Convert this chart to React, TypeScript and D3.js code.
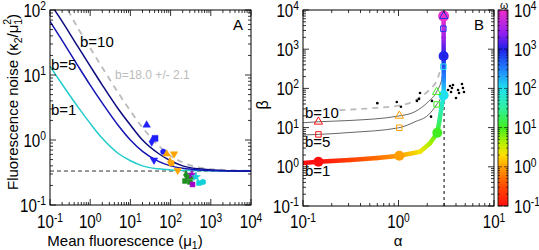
import React from 'react';
import * as d3 from 'd3';

const W = 539, H = 250;
const FONT = "'Liberation Sans', Arial, Helvetica, sans-serif";

// ---- panel A: noise vs mean fluorescence (mu1, kappa2/mu1^2) ----
const curveA1 = [[0.1, 13.7], [0.2, 7.2], [0.5, 3.2], [1, 1.8], [2, 1.06], [5, 0.62], [10, 0.48], [20, 0.40], [50, 0.36], [100, 0.347], [300, 0.338], [1e4, 0.333]];
const curveA5 = [[0.1, 67], [0.2, 34], [0.5, 13.7], [1, 7.0], [2, 3.7], [5, 1.67], [10, 1.0], [20, 0.67], [50, 0.47], [100, 0.40], [200, 0.367], [500, 0.347], [1000, 0.34], [1e4, 0.333]];
const curveA10 = [[0.13, 100], [0.2, 67], [0.5, 27], [1, 13.7], [2, 7.0], [5, 3.0], [10, 1.7], [20, 1.0], [50, 0.62], [100, 0.48], [200, 0.40], [500, 0.36], [1000, 0.347], [1e4, 0.334]];
const curveFit = [[0.28, 100], [0.5, 52], [1, 26], [2, 13], [5, 5.3], [10, 2.8], [20, 1.55], [50, 0.82], [100, 0.57], [200, 0.45], [500, 0.38], [1000, 0.357], [1e4, 0.336]];
const noiseFloor = 0.333;

const ptsBlue = [[25.4, 1.7, 'tri'], [41, 1.06, 'sq'], [33.9, 0.94, 'dia'], [65.8, 0.66, 'circ'], [38.6, 0.49, 'trid']];
const ptsOrange = [[80, 0.61, 'tri'], [122, 0.61, 'trid'], [97, 0.46, 'dia'], [106, 0.44, 'sq'], [150, 0.34, 'trid']];
const ptsGreen = [[242, 0.29, 'dia'], [304, 0.27, 'tri'], [228, 0.234, 'sq'], [304, 0.226, 'sq']];
const ptsPurple = [[340, 0.294, 'star'], [351, 0.207, 'sq']];
const ptsCyan = [[428, 0.27, 'star'], [509, 0.218, 'sq'], [640, 0.226, 'circ']];

// ---- panel B: beta vs alpha, colour = log10(omega) ----
const curveB1 = [[0.1, 1.25, -1.2], [0.145, 1.35, -1], [0.31, 1.49, -0.6], [0.6, 1.68, -0.3], [1.02, 1.92, 0], [1.68, 2.43, 0.35], [2.14, 4.0, 0.65], [2.55, 7.4, 1], [2.69, 15.5, 1.35], [2.79, 28, 1.6], [2.97, 67, 2], [2.98, 200, 2.5], [2.97, 673, 3], [2.97, 2000, 3.5], [2.97, 7000, 4]];
const curveB5 = [[0.1, 6.5], [0.145, 6.7], [0.31, 7.5], [1.01, 9.9], [1.49, 14.1], [2.05, 21], [2.51, 39], [2.83, 68], [2.94, 110], [2.98, 220], [2.99, 358]];
const curveB10 = [[0.1, 13.3], [0.145, 14.1], [0.31, 15.2], [1.01, 19.8], [1.49, 25.5], [2.05, 45.8], [2.51, 82], [2.83, 164], [2.94, 243]];
const curveBFit = [[0.24, 28], [0.5, 31], [1.08, 37.5], [1.49, 49], [2.05, 86], [2.31, 115], [2.51, 155], [2.7, 260]];
const circlesB1 = [[0.145, 1.35, -1], [1.02, 1.92, 0], [2.55, 7.4, 1], [2.97, 67, 2], [2.97, 673, 3], [2.97, 7000, 4]];
const trianglesB10 = [[0.145, 14.1, -1], [1.02, 20, 0], [2.51, 81, 1], [2.97, 673, 2.9], [2.97, 7000, 2.9]];
const squaresB5 = [[0.145, 6.7, -1], [1.02, 9.9, 0], [2.51, 39, 1], [2.95, 358, 2], [2.95, 3340, 2.9]];
const dotsB = [[0.6, 42], [0.96, 45], [1.06, 34], [1.56, 48], [1.64, 54], [1.68, 76], [2.19, 19], [2.24, 48], [2.92, 184], [2.85, 60], [2.9, 50], [3.3, 91], [3.46, 115], [3.63, 102], [3.72, 122], [3.55, 81], [4.0, 57], [4.2, 91], [4.3, 76], [4.62, 129], [4.73, 102], [4.85, 81]];
const alphaCritical = 3;

// omega palette
const omegaStops = [-1, -0.5, 0, 0.3, 0.6, 1, 1.5, 2, 2.5, 3, 3.4, 4];
const omegaColors = ['#ff1010', '#ff4a00', '#ffa000', '#ffe000', '#b8f000', '#40ee20', '#30f0a0', '#20e0f0', '#2080ff', '#2020e8', '#9020f0', '#f030c8'];

const xA = d3.scaleLog().domain([0.1, 1e4]).range([50, 251]);
const yA = d3.scaleLog().domain([0.1, 100]).range([205, 10]);
const xB = d3.scaleLog().domain([0.1, 10]).range([303, 494]);
const yB = d3.scaleLog().domain([0.1, 1e4]).range([206, 10]);
const cOmega = d3.scaleLinear<string>().domain(omegaStops).range(omegaColors).clamp(true);

const TS = 18.5, SX = 0.82;

function Pow({ x, y, e, anchor }: any) {
  return (
    <g transform={`translate(${x},${y}) scale(${SX},1)`}>
      <text textAnchor={anchor} fontSize={TS} fontFamily={FONT}>
        10<tspan dy={-6.5} fontSize={12.5}>{e}</tspan>
      </text>
    </g>
  );
}

function logTicks(lo: number, hi: number) {
  const major: number[] = [], minor: number[] = [];
  for (let p = Math.round(Math.log10(lo)); p <= Math.round(Math.log10(hi)); p++) {
    major.push(Math.pow(10, p));
    if (p < Math.round(Math.log10(hi))) for (let k = 2; k < 10; k++) minor.push(k * Math.pow(10, p));
  }
  return { major, minor };
}

function Frame({ x, y }: any) {
  const [x0, x1] = x.range();
  const [y0, y1] = y.range();
  const tx = logTicks(x.domain()[0], x.domain()[1]);
  const ty = logTicks(y.domain()[0], y.domain()[1]);
  const out: any[] = [];
  tx.major.concat(tx.minor).forEach((v, i) => {
    const L = i < tx.major.length ? 6 : 3;
    const px = x(v);
    out.push(<line key={'xb' + i} x1={px} x2={px} y1={y0} y2={y0 - L} />);
    out.push(<line key={'xt' + i} x1={px} x2={px} y1={y1} y2={y1 + L} />);
  });
  ty.major.concat(ty.minor).forEach((v, i) => {
    const L = i < ty.major.length ? 6 : 3;
    const py = y(v);
    out.push(<line key={'yl' + i} x1={x0} x2={x0 + L} y1={py} y2={py} />);
    out.push(<line key={'yr' + i} x1={x1} x2={x1 - L} y1={py} y2={py} />);
  });
  return (
    <g stroke="#000" strokeWidth={0.8} fill="none">
      {out}
      <rect x={x0} y={y1} width={x1 - x0} height={y0 - y1} strokeWidth={1} />
    </g>
  );
}

function Marker({ x, y, type, color, size = 26, hollow = false }: any) {
  const map: any = { tri: d3.symbolTriangle, trid: d3.symbolTriangle, sq: d3.symbolSquare, dia: d3.symbolDiamond, circ: d3.symbolCircle, star: d3.symbolStar };
  const p = d3.symbol().type(map[type]).size(size)() as string;
  const rot = type === 'trid' ? ' rotate(180)' : '';
  return <path d={p} transform={`translate(${x},${y})${rot}`} fill={hollow ? 'none' : color} stroke={color} strokeWidth={hollow ? 1 : 0.5} />;
}

export default function App() {
  const lineA = d3.line<any>().x(d => xA(d[0])).y(d => yA(d[1])).curve(d3.curveMonotoneX);
  const lineB = d3.line<any>().x(d => xB(d[0])).y(d => yB(d[1])).curve(d3.curveMonotoneX);

  const groupsA: [any[], string][] = [[ptsBlue, '#2020ff'], [ptsOrange, '#ffa500'], [ptsGreen, '#1f8f1f'], [ptsPurple, '#a000c8'], [ptsCyan, '#10d0d8']];
  const majA = logTicks(0.1, 1e4).major;
  const majAy = logTicks(0.1, 100).major;
  const majB = logTicks(0.1, 10).major;
  const majBy = logTicks(0.1, 1e4).major;
  const cbTicks = logTicks(0.1, 1e4);

  return (
    <svg width={W} height={H} style={{ position: 'absolute', left: 0, top: 0, background: '#fff' }} fontFamily={FONT}>
      <defs>
        <clipPath id="clipA"><rect x={50} y={10} width={201} height={195} /></clipPath>
        <clipPath id="clipB"><rect x={303} y={10} width={191} height={196} /></clipPath>
        <linearGradient id="cbar" x1="0" y1="1" x2="0" y2="0">
          {omegaStops.map((s, i) => (
            <stop key={i} offset={(s + 1) / 5} stopColor={omegaColors[i]} />
          ))}
        </linearGradient>
        {curveB1.slice(1).map((d, i) => {
          const a = curveB1[i];
          return (
            <linearGradient key={i} id={'seg' + i} gradientUnits="userSpaceOnUse" x1={xB(a[0])} y1={yB(a[1])} x2={xB(d[0])} y2={yB(d[1]) + 0.01}>
              <stop offset="0" stopColor={cOmega(a[2])} />
              <stop offset="1" stopColor={cOmega(d[2])} />
            </linearGradient>
          );
        })}
      </defs>

      {/* ---------- panel A ---------- */}
      <g clipPath="url(#clipA)">
        <line x1={50} x2={251} y1={yA(noiseFloor)} y2={yA(noiseFloor)} stroke="#333" strokeWidth={1} strokeDasharray="4,3" />
        <path d={lineA(curveFit) as string} fill="none" stroke="#bbb" strokeWidth={1.8} strokeDasharray="6,5" />
        <path d={lineA(curveA1) as string} fill="none" stroke="#22cccc" strokeWidth={1.5} />
        <path d={lineA(curveA10) as string} fill="none" stroke="#0a0a80" strokeWidth={1.5} />
        <path d={lineA(curveA5) as string} fill="none" stroke="#1414b4" strokeWidth={1.5} />
        {groupsA.map(([pts, col], g) =>
          pts.map((p, i) => <Marker key={g + '-' + i} x={xA(p[0])} y={yA(p[1])} type={p[2]} color={col} size={p[2] === 'sq' && g === 0 ? 36 : 24} />)
        )}
      </g>
      <Frame x={xA} y={yA} />
      {majA.map((v, i) => <Pow key={'ax' + i} x={xA(v)} y={228} e={String(Math.round(Math.log10(v)))} anchor="middle" />)}
      {majAy.map((v, i) => <Pow key={'ay' + i} x={46} y={yA(v) + 6.5} e={String(Math.round(Math.log10(v)))} anchor="end" />)}
      <text x={80} y={47} fontSize={15}>b=10</text>
      <text x={51} y={70} fontSize={15}>b=5</text>
      <text x={51} y={115} fontSize={15}>b=1</text>
      <text x={115} y={79} fontSize={12} fill="#bbb">b=18.0 +/- 2.1</text>
      <text x={233} y={30} fontSize={15}>A</text>
      <text x={125} y={246} fontSize={15} textAnchor="middle">
        Mean fluorescence (μ<tspan dy={2.5} fontSize={10.5}>1</tspan><tspan dy={-2.5}>)</tspan>
      </text>
      <text transform="translate(18,102) rotate(-90)" fontSize={15} textAnchor="middle">
        Fluorescence noise (κ<tspan dy={4} fontSize={10.5}>2</tspan><tspan dy={-4}>/μ</tspan><tspan dy={4} fontSize={10.5}>1</tspan><tspan dx={-6} dy={-11} fontSize={10.5}>2</tspan><tspan dy={7}>)</tspan>
      </text>

      {/* ---------- panel B ---------- */}
      <g clipPath="url(#clipB)">
        <line x1={xB(alphaCritical)} x2={xB(alphaCritical)} y1={206} y2={10} stroke="#000" strokeWidth={1} strokeDasharray="3,3" />
        <path d={lineB(curveBFit) as string} fill="none" stroke="#bbb" strokeWidth={1.8} strokeDasharray="6,5" />
        <path d={lineB(curveB10) as string} fill="none" stroke="#555" strokeWidth={0.9} />
        <path d={lineB(curveB5) as string} fill="none" stroke="#555" strokeWidth={0.9} />
        {dotsB.map((d, i) => <circle key={'d' + i} cx={xB(d[0])} cy={yB(d[1])} r={1.3} fill="#000" />)}
        {curveB1.slice(1).map((d, i) => {
          const a = curveB1[i];
          return <line key={'s' + i} x1={xB(a[0])} y1={yB(a[1])} x2={xB(d[0])} y2={yB(d[1])} stroke={`url(#seg${i})`} strokeWidth={4.5} strokeLinecap="round" />;
        })}
        {circlesB1.map((d, i) => <circle key={'c' + i} cx={xB(d[0])} cy={yB(d[1])} r={i === 5 ? 5.5 : 5} fill={cOmega(d[2])} />)}
        {trianglesB10.map((d, i) => <Marker key={'t' + i} x={xB(d[0])} y={yB(d[1])} type="tri" color={cOmega(d[2])} size={30} hollow />)}
        {squaresB5.map((d, i) => <Marker key={'q' + i} x={xB(d[0])} y={yB(d[1])} type="sq" color={cOmega(d[2])} size={30} hollow />)}
      </g>
      <Frame x={xB} y={yB} />
      {majB.map((v, i) => <Pow key={'bx' + i} x={xB(v)} y={228} e={String(Math.round(Math.log10(v)))} anchor="middle" />)}
      {majBy.map((v, i) => <Pow key={'by' + i} x={299} y={yB(v) + 6.5} e={String(Math.round(Math.log10(v)))} anchor="end" />)}
      <text x={305} y={118} fontSize={15}>b=10</text>
      <text x={305} y={147} fontSize={15}>b=5</text>
      <text x={305} y={176} fontSize={15}>b=1</text>
      <text x={474} y={30} fontSize={15}>B</text>
      <text x={398} y={246} fontSize={15} textAnchor="middle">α</text>
      <text transform="translate(268,105) rotate(-90)" fontSize={16} textAnchor="middle">β</text>

      {/* colour bar */}
      <rect x={498} y={10} width={10} height={196} fill="url(#cbar)" stroke="#000" strokeWidth={0.8} />
      <g stroke="#000" strokeWidth={0.6}>
        {cbTicks.major.concat(cbTicks.minor).map((v, i) => (
          <g key={'cb' + i}>
            <line x1={498} x2={i < 6 ? 502 : 500} y1={yB(v)} y2={yB(v)} />
            <line x1={508} x2={i < 6 ? 504 : 506} y1={yB(v)} y2={yB(v)} />
          </g>
        ))}
      </g>
      {majBy.map((v, i) => <Pow key={'cl' + i} x={514} y={yB(v) + 6.5} e={String(Math.round(Math.log10(v)))} anchor="start" />)}
      <text x={504} y={9} fontSize={10.5} textAnchor="middle">ω</text>
    </svg>
  );
}
